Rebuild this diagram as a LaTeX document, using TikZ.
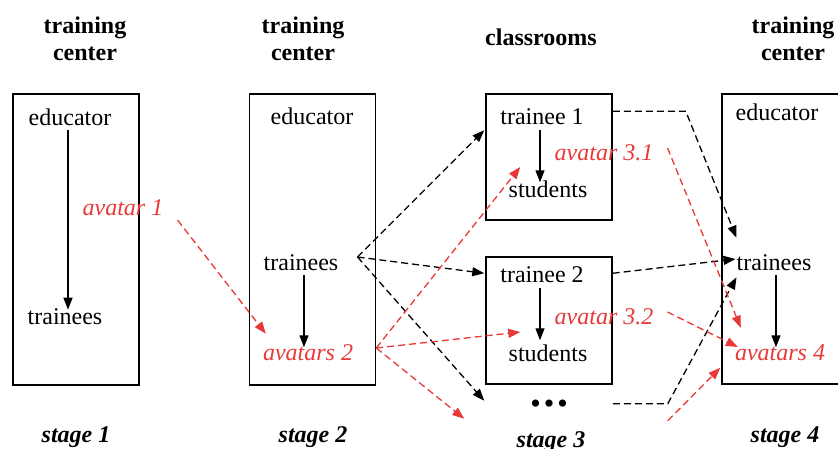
\documentclass[tikz,border=0pt]{standalone}
\usepackage{fontspec}
\setmainfont{Liberation Serif}
\usetikzlibrary{arrows.meta,calc}
\definecolor{avred}{RGB}{232,56,56}
\tikzset{
	box/.style={draw,line width=1.5pt,minimum width=126pt,inner sep=0pt},
	txt/.style={inner sep=1pt,font=\fontsize{24}{27}\selectfont},
	ava/.style={inner sep=1pt,text=avred,font=\fontsize{24}{27}\selectfont\itshape},
	head/.style={inner sep=1pt,align=center,font=\fontsize{24}{27}\selectfont\bfseries},
	stagelbl/.style={inner sep=1pt,font=\fontsize{24}{27}\selectfont\bfseries\itshape},
	solidarr/.style={line width=1.3pt,-{Triangle[length=12pt,width=9pt]}},
	blkdash/.style={line width=1.3pt,dash pattern=on 7pt off 4pt,-{Triangle[length=12pt,width=9pt]}},
	reddash/.style={blkdash,avred}
}
\begin{document}
\begin{tikzpicture}[x=1pt,y=-1pt]
	\useasboundingbox (0,0) rectangle (838,448);

	%headings
	\node[head] (h1) at (85,39) {training\\center};
	\node[head] (h2) at (303,39) {training\\center};
	\node[head] (h3) at (541,37) {classrooms};
	\node[head] (h4) at (793,39) {training\\center};

	%boxes
	\node[box,minimum height=291pt] (b1) at (76,239.5) {};
	\node[box,minimum height=291pt] (b2) at (312.5,239.5) {};
	\node[box,minimum height=126pt] (c1) at (549,157) {};
	\node[box,minimum height=127pt] (c2) at (549,320.5) {};
	\node[box,minimum height=290pt] (b4) at (785,239) {};

	%stage 1
	\node[txt] (ed1) at (70,117) {educator};
	\node[txt] (tr1) at (65,317) {trainees};
	\node[ava] (av1) at (123,208) {avatar 1};

	%stage 2
	\node[txt] (ed2) at (312,116) {educator};
	\node[txt] (tr2) at (301,263) {trainees};
	\node[ava] (av2) at (308,353) {avatars 2};

	%stage 3
	\node[txt] (ts1) at (542,117) {trainee 1};
	\node[txt] (st1) at (548,189) {students};
	\node[ava] (av31) at (604,153) {avatar 3.1};
	\node[txt] (ts2) at (542,275) {trainee 2};
	\node[txt] (st2) at (548,353) {students};
	\node[ava] (av32) at (604,317) {avatar 3.2};
	\node[inner sep=1pt,font=\fontsize{30}{30}\selectfont] (dots) at (549,407)
	  {\textbullet\hspace{3pt}\textbullet\hspace{3pt}\textbullet};

	%stage 4
	\node[txt] (ed4) at (777,112) {educator};
	\node[txt] (tr4) at (774,263) {trainees};
	\node[ava] (av4) at (780,353) {avatars 4};

	%stage labels
	\node[stagelbl] (s1) at (76,437) {stage 1};
	\node[stagelbl] (s2) at (313,437) {stage 2};
	\node[stagelbl] (s3) at (551,442) {stage 3};
	\node[stagelbl] (s4) at (785,437) {stage 4};

	%solid arrows
	\draw[solidarr] ($(ed1.south)+(-2,3)$) -- ++(0,180);
	\draw[solidarr] ($(tr2.south)+(3,3)$) -- ++(0,72);
	\draw[solidarr] ($(ts1.south)+(-2,4)$) -- ++(0,52);
	\draw[solidarr] ($(ts2.south)+(-2,4)$) -- ++(0,52);
	\draw[solidarr] ($(tr4.south)+(2,3)$) -- ++(0,72);

	%black dashed arrows
	\coordinate (fork) at ($(tr2.east)+(18,-6)$);
	\draw[blkdash] (fork) -- ($(c1.north west)+(-1,37)$);
	\draw[blkdash] (fork) -- ($(c2.north west)+(-1,17)$);
	\draw[blkdash] (fork) -- ($(c2.south west)+(-1,16)$);
	\draw[blkdash] ($(c1.north east)+(0,18)$) -- ++(73,0) -- ($(tr4.north west)+(1,-16)$);
	\draw[blkdash] ($(c2.north east)+(0,17)$) -- ($(tr4.west)+(0,-4)$);
	\draw[blkdash] ($(c2.south east)+(0,19)$) -- ++(55,0) -- ($(tr4.south west)+(1,5)$);

	%red dashed arrows
	\coordinate (r2) at ($(b2.east |- av2)+(0,-5)$);
	\draw[reddash] ($(av1.east)+(13,12)$) -- ($(av2.north west)+(4,-10)$);
	\draw[reddash] (r2) -- ($(c1.west)+(35,10)$);
	\draw[reddash] (r2) -- ($(c2.west)+(35,11.5)$);
	\draw[reddash] (r2) -- ($(c2.south west)+(-21,34)$);
	\draw[reddash] ($(av31.east)+(13,-5)$) -- ($(av4.north west)+(7,-16)$);
	\draw[reddash] ($(av32.east)+(13,-5)$) -- ($(av4.west)+(4,-6)$);
	\draw[reddash] ($(c2.south east)+(55,36)$) -- ($(b4.south west)+(-1,-17)$);
\end{tikzpicture}
\end{document}
